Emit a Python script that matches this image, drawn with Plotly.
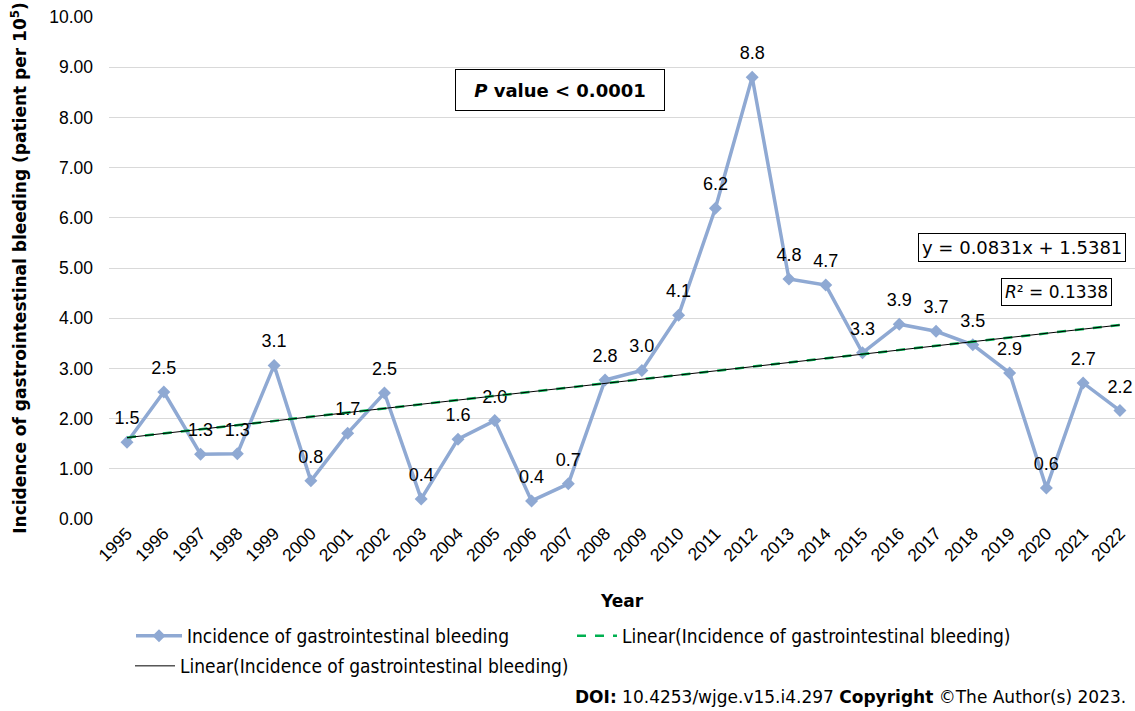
import plotly.graph_objects as go

years = list(range(1995, 2023))
incidence = [1.53, 2.53, 1.29, 1.30, 3.06, 0.76, 1.71, 2.51, 0.40, 1.59,
             1.96, 0.36, 0.70, 2.77, 2.96, 4.06, 6.19, 8.80, 4.78, 4.66,
             3.31, 3.88, 3.74, 3.47, 2.91, 0.62, 2.71, 2.16]
trend_slope = 0.0831
trend_intercept = 1.5381
trend_r2 = 0.1338
y_ticks = [0, 1, 2, 3, 4, 5, 6, 7, 8, 9, 10]

series_name = "Incidence of gastrointestinal bleeding"
trend_name = "Linear(Incidence of gastrointestinal bleeding)"

trend = [trend_slope * (i + 1) + trend_intercept for i in range(len(years))]

VFONT = "DejaVu Sans, Verdana, sans-serif"
AFONT = "Liberation Sans, Arial, sans-serif"
NARROW = "DejaVu Sans Condensed, Liberation Sans Narrow, Arial Narrow, sans-serif"
BLUE = "#8FA9D3"

fig = go.Figure()
fig.add_trace(go.Scatter(
    x=years, y=incidence, mode="lines+markers", name=series_name,
    line=dict(color=BLUE, width=3.5),
    marker=dict(symbol="diamond", size=10, color=BLUE),
    legend="legend", cliponaxis=False,
))
fig.add_trace(go.Scatter(
    x=years, y=incidence, mode="markers+text", showlegend=False,
    marker=dict(size=20, opacity=0),
    text=[f"{v:.1f}" for v in incidence], textposition="top center",
    textfont=dict(family=AFONT, size=18, color="#000000"),
    hoverinfo="skip", cliponaxis=False,
))
fig.add_trace(go.Scatter(
    x=years, y=trend, mode="lines", name=trend_name,
    line=dict(color="#00B050", width=2.5, dash="dash"),
    legend="legend2",
))
fig.add_trace(go.Scatter(
    x=years, y=trend, mode="lines", name=trend_name,
    line=dict(color="#000000", width=1),
    legend="legend3",
))

L, R, T, B = 109, 0, 17, 192
W, H = 1135, 711
pw = W - L - R
ph = H - T - B

def px_x(px):
    return (px - L) / pw

def px_y(py):
    return (H - B - py) / ph

legend_common = dict(orientation="h", font=dict(family=NARROW, size=19, color="#000000"),
                     bgcolor="rgba(0,0,0,0)", xanchor="left", yanchor="middle")

fig.update_layout(
    width=W, height=H,
    margin=dict(l=L, r=R, t=T, b=B),
    paper_bgcolor="white", plot_bgcolor="white",
    font=dict(family=AFONT, size=17, color="#000000"),
    xaxis=dict(
        range=[1994.51, 2022.41], tickmode="array", tickvals=years,
        ticktext=[str(y) for y in years], tickangle=-45,
        tickfont=dict(family=AFONT, size=17.5, color="#000000"),
        showgrid=False, zeroline=False, showline=False, ticks="",
        title=dict(text="<b>Year</b>", font=dict(family=VFONT, size=17, color="#000000"), standoff=30),
    ),
    yaxis=dict(
        range=[0, 10], tickmode="array", tickvals=y_ticks,
        ticktext=[f"{v:.2f}" for v in y_ticks],
        tickfont=dict(family=AFONT, size=17.5, color="#000000"),
        showgrid=True, gridcolor="#D9D9D9", gridwidth=1, zeroline=False,
        showline=False, ticks="", ticklabelstandoff=15,
        title=dict(text="<b>Incidence of gastrointestinal bleeding (patient per 10<sup>5</sup>)</b>",
                   font=dict(family=VFONT, size=17, color="#000000"), standoff=18),
    ),
    legend=dict(x=px_x(131), y=px_y(636), itemwidth=46, **legend_common),
    legend2=dict(x=px_x(572), y=px_y(636), itemwidth=40, **legend_common),
    legend3=dict(x=px_x(130), y=px_y(666), itemwidth=40, **legend_common),
    showlegend=True,
)

fig.add_annotation(
    x=px_x(560), y=px_y(90), xref="paper", yref="paper",
    xanchor="center", yanchor="middle",
    text="<b><i>P</i> value &lt; 0.0001</b>", showarrow=False,
    font=dict(family=VFONT, size=18, color="#000000"),
    width=196, height=28,
    bordercolor="#000000", borderwidth=1, borderpad=6, bgcolor="white",
)
fig.add_annotation(
    x=px_x(1022), y=px_y(247), xref="paper", yref="paper",
    xanchor="center", yanchor="middle",
    text=f"y = {trend_slope}x + {trend_intercept}", showarrow=False,
    font=dict(family=VFONT, size=18, color="#000000"),
    bordercolor="#000000", borderwidth=1, borderpad=3, bgcolor="white",
)
fig.add_annotation(
    x=px_x(1056), y=px_y(292), xref="paper", yref="paper",
    xanchor="center", yanchor="middle",
    text=f"<i>R</i>² = {trend_r2}", showarrow=False,
    font=dict(family=VFONT, size=17, color="#000000"),
    bordercolor="#000000", borderwidth=1, borderpad=3, bgcolor="white",
)
fig.add_annotation(
    x=px_x(1128), y=px_y(697), xref="paper", yref="paper",
    xanchor="right", yanchor="middle",
    text="<b>DOI:</b> 10.4253/wjge.v15.i4.297 <b>Copyright</b> ©The Author(s) 2023.",
    showarrow=False, font=dict(family=VFONT, size=17, color="#000000"),
)

fig.write_html("out.html", config={"displayModeBar": False},
               post_script="document.body.style.margin='0px';")
